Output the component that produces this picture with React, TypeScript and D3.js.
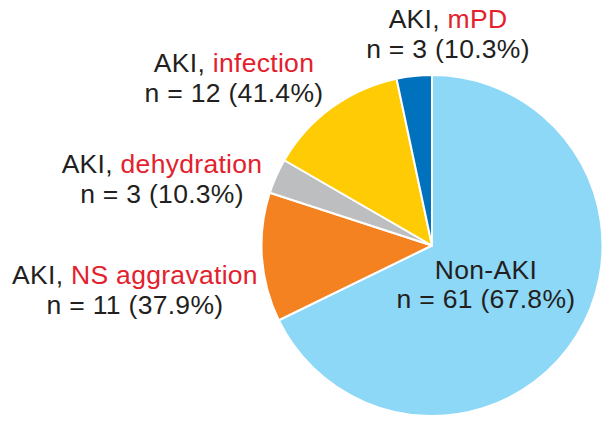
import React from "react";
import * as d3 from "d3";

const categories = ["Non-AKI", "NS aggravation", "dehydration", "infection", "mPD"];
const values = [61, 11, 3, 12, 3];
const prefixes = ["", "AKI, ", "AKI, ", "AKI, ", "AKI, "];
const countLabels = ["n = 61 (67.8%)", "n = 11 (37.9%)", "n = 3 (10.3%)", "n = 12 (41.4%)", "n = 3 (10.3%)"];
const colors = ["#8DD7F7", "#F58220", "#BCBEC0", "#FFCB05", "#0071BC"];

const W = 614;
const H = 427;
const cx = 432;
const cy = 245.5;
const R = 170.5;

// label layout: [centerX, firstBaseline, secondBaseline]
const labelPos: [number, number, number][] = [
  [486, 279, 308],
  [135, 284, 314],
  [162, 173, 203],
  [234, 72, 102],
  [448, 28, 58],
];

export default function App() {
  const pie = d3.pie<number>().sort(null).startAngle(0).endAngle(2 * Math.PI);
  const arcs = pie(values);
  const arc = d3.arc<d3.PieArcDatum<number>>().innerRadius(0).outerRadius(R);
  const dark = "#231F20";
  const red = "#E3212D";
  const textStyle: React.CSSProperties = {
    fontFamily: "'Liberation Sans', Arial, Helvetica, sans-serif",
    fontSize: 26.5,
    letterSpacing: 0.3,
  };
  return (
    <svg width={W} height={H} style={{ position: "fixed", left: 0, top: 0, background: "#fff" }}>
      <g transform={`translate(${cx},${cy})`}>
        {arcs.map((a, i) => (
          <path key={i} d={arc(a) || ""} fill={colors[i]} stroke="#fff" strokeWidth={2} strokeLinejoin="round" />
        ))}
      </g>
      {categories.map((c, i) => {
        const [x, y1, y2] = labelPos[i];
        return (
          <g key={c} style={textStyle} fill={dark}>
            <text x={x} y={y1} textAnchor="middle">
              {prefixes[i] ? <tspan fill={dark}>{prefixes[i]}</tspan> : null}
              <tspan fill={prefixes[i] ? red : dark}>{c}</tspan>
            </text>
            <text x={x} y={y2} textAnchor="middle">{countLabels[i]}</text>
          </g>
        );
      })}
    </svg>
  );
}
